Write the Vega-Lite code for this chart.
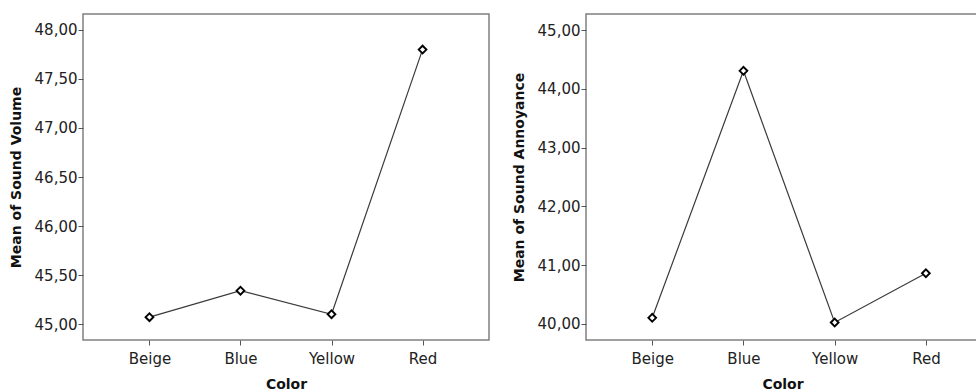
{
  "$schema": "https://vega.github.io/schema/vega-lite/v6.json",
  "padding": {"left": 8, "top": 13, "right": 0, "bottom": 0},
  "spacing": 21,
  "background": "white",
  "config": {
    "font": "DejaVu Sans",
    "view": {"stroke": "#808080", "strokeWidth": 1.5},
    "axis": {
      "grid": false,
      "domain": false,
      "tickColor": "#555555",
      "tickSize": 5,
      "labelFont": "DejaVu Sans",
      "labelFontSize": 15,
      "labelColor": "#222222",
      "titleFont": "DejaVu Sans",
      "titleFontSize": 14,
      "titleFontWeight": "bold",
      "titleColor": "#111111"
    },
    "axisX": {"labelPadding": 6, "titlePadding": 11, "labelAngle": 0},
    "axisY": {"labelPadding": 1, "titlePadding": 11}
  },
  "datasets": {
    "volume": [
      {"Color": "Beige", "Mean": 45.07},
      {"Color": "Blue", "Mean": 45.34},
      {"Color": "Yellow", "Mean": 45.10},
      {"Color": "Red", "Mean": 47.80}
    ],
    "annoyance": [
      {"Color": "Beige", "Mean": 40.10},
      {"Color": "Blue", "Mean": 44.31},
      {"Color": "Yellow", "Mean": 40.02},
      {"Color": "Red", "Mean": 40.86}
    ]
  },
  "resolve": {"scale": {"x": "independent", "y": "independent"}},
  "hconcat": [
    {
      "data": {"name": "volume"},
      "width": 406,
      "height": 326,
      "encoding": {
        "x": {
          "field": "Color",
          "type": "nominal",
          "sort": ["Beige", "Blue", "Yellow", "Red"],
          "scale": {"type": "point", "padding": 0.73},
          "axis": {"title": "Color"}
        },
        "y": {
          "field": "Mean",
          "type": "quantitative",
          "scale": {"domain": [44.837, 48.163], "nice": false, "zero": false},
          "axis": {
            "title": "Mean of Sound Volume",
            "values": [45, 45.5, 46, 46.5, 47, 47.5, 48],
            "labelExpr": "replace(format(datum.value, '.2f'), '.', ',')"
          }
        }
      },
      "layer": [
        {"mark": {"type": "line", "color": "#3a3a3a", "strokeWidth": 1.2}},
        {"mark": {"type": "point", "shape": "diamond", "size": 60, "filled": true, "fill": "white", "stroke": "#000000", "strokeWidth": 1.9, "opacity": 1}}
      ]
    },
    {
      "data": {"name": "annoyance"},
      "width": 393,
      "height": 326,
      "encoding": {
        "x": {
          "field": "Color",
          "type": "nominal",
          "sort": ["Beige", "Blue", "Yellow", "Red"],
          "scale": {"type": "point", "padding": 0.654, "align": 0.555},
          "axis": {"title": "Color"}
        },
        "y": {
          "field": "Mean",
          "type": "quantitative",
          "scale": {"domain": [39.722, 45.278], "nice": false, "zero": false},
          "axis": {
            "title": "Mean of Sound Annoyance",
            "values": [40, 41, 42, 43, 44, 45],
            "labelExpr": "replace(format(datum.value, '.2f'), '.', ',')"
          }
        }
      },
      "layer": [
        {"mark": {"type": "line", "color": "#3a3a3a", "strokeWidth": 1.2}},
        {"mark": {"type": "point", "shape": "diamond", "size": 60, "filled": true, "fill": "white", "stroke": "#000000", "strokeWidth": 1.9, "opacity": 1}}
      ]
    }
  ]
}
